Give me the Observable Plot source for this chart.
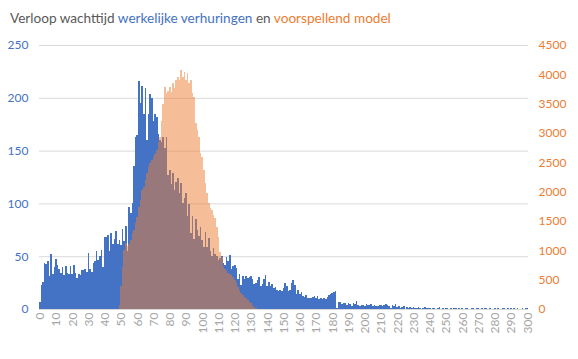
<!DOCTYPE html>
<html>
<head>
<meta charset="utf-8">
<script src="https://cdn.jsdelivr.net/npm/d3@7"></script>
<script src="https://cdn.jsdelivr.net/npm/@observablehq/plot@0.6"></script>
<style>
  body { margin: 0; background: #fff; font-family: Lato, "Open Sans", sans-serif; }
  #title { box-sizing: border-box; height: 30px; padding: 10px 0 0 10px; font-size: 13.6px; line-height: 16px; color: #595959; white-space: nowrap; }
  .blue { color: #4472C4; }
  .orange { color: #ED7D31; }
</style>
</head>
<body>
<div id="title">Verloop wachttijd <span class="blue">werkelijke verhuringen</span> en <span class="orange">voorspellend model</span></div>
<div id="chart"></div>
<script>
// Werkelijke verhuringen: count per wait minute 0..300 (left axis)
const werkelijk = [
  7,23,26,44,43,45,31,52,33,40,
  47,42,38,34,40,32,41,34,33,41,
  33,42,34,29,33,32,37,37,38,35,
  53,38,35,44,45,55,46,50,56,40,
  68,68,70,55,72,62,66,74,62,65,
  61,76,64,79,55,97,91,100,135,163,
  165,216,195,211,185,209,160,185,204,200,
  178,185,182,166,160,158,163,152,163,127,
  132,118,129,113,120,124,110,119,100,105,
  110,88,99,72,88,66,85,75,69,78,
  65,59,73,59,67,55,50,58,52,50,
  46,48,50,44,42,49,45,51,38,41,
  42,39,28,33,23,31,28,31,29,30,
  31,28,24,25,27,30,22,24,28,32,
  22,26,22,24,20,21,18,17,18,17,
  20,25,22,17,18,25,27,23,14,18,
  14,16,12,11,13,10,10,10,11,12,
  10,12,9,10,9,10,9,11,13,14,
  15,16,17,1,7,7,5,6,6,4,
  6,5,3,6,5,8,4,3,4,4,
  3,5,4,4,5,3,4,3,3,4,
  4,3,4,5,4,3,1,4,3,5,
  2,3,1,2,3,0,2,1,2,1,
  2,1,1,2,1,0,1,2,1,1,
  1,0,1,1,0,1,2,0,1,0,
  1,1,0,1,0,1,1,0,1,0,
  1,0,1,1,0,0,1,1,0,1,
  1,0,1,0,1,1,0,1,0,0,
  1,0,1,0,0,1,1,0,1,0,
  1,0,1,0,1,0,0,1,0,1,
  1
];
// Voorspellend model: values per minute starting at minute 49 (right axis)
const modelStart = 49;
const model = [
  60,400,720,1000,1120,1080,1100,1176,1290,1350,
  1460,1573,1744,1858,2028,2085,2199,2312,2426,2483,
  2540,2596,2650,2710,2850,2937,3200,3500,3790,3676,
  3720,3790,3700,3846,3760,3903,3960,3900,4074,3960,
  4045,3900,4017,3850,3903,3676,3619,3165,3050,2937,
  2656,2596,2369,2142,1972,1801,1716,1688,1602,1550,
  1403,1233,977,892,722,680,640,620,600,580,
  551,494,440,380,324,268,240,210,180,153,
  120,96,70,40,15
];
const leftTicks = [0, 50, 100, 150, 200, 250];
const rightTicks = [0, 500, 1000, 1500, 2000, 2500, 3000, 3500, 4000, 4500];
const xTicks = [0,10,20,30,40,50,60,70,80,90,100,110,120,130,140,150,160,170,180,190,200,210,220,230,240,250,260,270,280,290,300];
const ratio = 4500 / 250;

const minutes = werkelijk.map((_, i) => i);
const blueData = werkelijk.map((v, i) => ({m: i, v}));
const orangeData = model.map((v, i) => ({m: modelStart + i, v}));

const chart = Plot.plot({
  width: 578,
  height: 329,
  marginTop: 15,
  marginBottom: 50,
  marginLeft: 39,
  marginRight: 50,
  style: {fontFamily: "Lato, 'Open Sans', sans-serif", background: "#fff"},
  x: {type: "band", domain: minutes, padding: 0, axis: null},
  y: {domain: [0, 250], axis: null},
  marks: [
    Plot.gridY(leftTicks, {stroke: "#d9d9d9", strokeOpacity: 1}),
    Plot.barY(blueData, {x: "m", y: "v", fill: "#4472C4", shapeRendering: "crispEdges"}),
    Plot.barY(orangeData, {x: "m", y: d => d.v / ratio, fill: "#ED7D31", fillOpacity: 0.5, shapeRendering: "crispEdges"}),
    Plot.axisY(leftTicks, {anchor: "left", label: null, tickSize: 0, tickPadding: 11, fill: "#4472C4", fontSize: 12}),
    Plot.axisY(rightTicks.map(v => v / ratio), {anchor: "right", label: null, tickSize: 0, tickPadding: 10, tickFormat: d => String(Math.round(d * ratio)), fill: "#ED7D31", fontSize: 12}),
    Plot.axisX(xTicks, {label: null, tickSize: 0, tickPadding: 3, tickRotate: -90, fill: "#a6a6a6", fontSize: 12})
  ]
});
document.getElementById("chart").appendChild(chart);
</script>
</body>
</html>
